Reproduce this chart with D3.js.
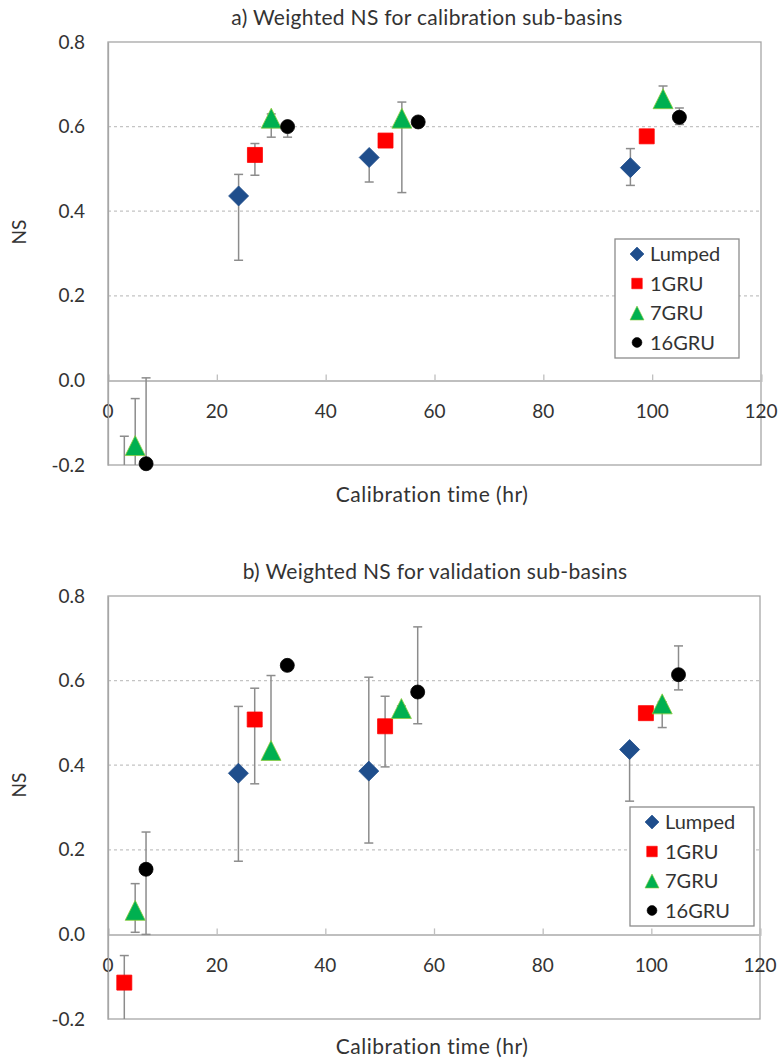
<!DOCTYPE html>
<html>
<head>
<meta charset="utf-8">
<script src="https://cdn.jsdelivr.net/npm/d3@7"></script>
<style>
  html, body { margin: 0; padding: 0; background: #fff; }
  svg { display: block; font-family: Lato, "Open Sans", sans-serif; }
</style>
</head>
<body>
<svg id="chart" width="782" height="1059"></svg>
<script>
// ---------- DATA ----------
const seriesNames = ["Lumped", "1GRU", "7GRU", "16GRU"];
const xTicks = [0, 20, 40, 60, 80, 100, 120];
const yTicks = [-0.2, 0.0, 0.2, 0.4, 0.6, 0.8];
const yTickLabels = ["-0.2", "0.0", "0.2", "0.4", "0.6", "0.8"];

// calibration time (hr) for each series
const lumpedTime = [24, 48, 96];
const gru1Time = [3, 27, 51, 99];
const gru7Time = [5, 30, 54, 102];
const gru16Time = [7, 33, 57, 105];

// a) calibration sub-basins: value, lower and upper error limits
const lumpedCalNS = [0.436, 0.527, 0.503];
const lumpedCalLo = [0.284, 0.469, 0.461];
const lumpedCalHi = [0.487, 0.535, 0.548];
const gru1CalNS = [-0.25, 0.533, 0.567, 0.577];
const gru1CalLo = [-0.35, 0.485, 0.560, 0.570];
const gru1CalHi = [-0.132, 0.560, 0.575, 0.585];
const gru7CalNS = [-0.154, 0.620, 0.620, 0.666];
const gru7CalLo = [-0.25, 0.575, 0.444, 0.660];
const gru7CalHi = [-0.043, 0.630, 0.658, 0.696];
const gru16CalNS = [-0.197, 0.600, 0.611, 0.622];
const gru16CalLo = [-0.25, 0.575, 0.605, 0.605];
const gru16CalHi = [0.006, 0.605, 0.615, 0.644];

// b) validation sub-basins
const lumpedValNS = [0.381, 0.386, 0.437];
const lumpedValLo = [0.173, 0.216, 0.315];
const lumpedValHi = [0.539, 0.608, 0.440];
const gru1ValNS = [-0.114, 0.508, 0.492, 0.523];
const gru1ValLo = [-0.25, 0.356, 0.396, 0.520];
const gru1ValHi = [-0.050, 0.582, 0.563, 0.526];
const gru7ValNS = [0.057, 0.435, 0.534, 0.545];
const gru7ValLo = [0.005, 0.430, 0.514, 0.489];
const gru7ValHi = [0.120, 0.612, 0.540, 0.550];
const gru16ValNS = [0.154, 0.636, 0.573, 0.614];
const gru16ValLo = [0.000, 0.630, 0.498, 0.578];
const gru16ValHi = [0.242, 0.640, 0.727, 0.682];

const titleA = "a) Weighted NS for calibration sub-basins";
const titleB = "b) Weighted NS for validation sub-basins";
const xTitle = "Calibration time (hr)";
const yTitle = "NS";

// ---------- BUILD ----------
function build(times, vals, los, his) {
  return times.map((t, i) => ({ t, v: vals[i], lo: los[i], hi: his[i] }));
}
const styles = {
  "Lumped": { shape: "diamond", fill: "#1F4E8C", stroke: "#1F4E8C" },
  "1GRU": { shape: "square", fill: "#FF0000", stroke: "#FF0000" },
  "7GRU": { shape: "triangle", fill: "#00B050", stroke: "#8CCB3C" },
  "16GRU": { shape: "circle", fill: "#000000", stroke: "#000000" }
};

const panels = [
  {
    id: "a", title: titleA, top: 42, bottom: 465, left: 108, right: 761,
    titleX: 427, titleY: 25, xTitleY: 502, nsY: 232,
    legend: { x: 615, y: 239, w: 124, h: 119 },
    series: [
      { name: "Lumped", data: build(lumpedTime, lumpedCalNS, lumpedCalLo, lumpedCalHi) },
      { name: "1GRU", data: build(gru1Time, gru1CalNS, gru1CalLo, gru1CalHi) },
      { name: "7GRU", data: build(gru7Time, gru7CalNS, gru7CalLo, gru7CalHi) },
      { name: "16GRU", data: build(gru16Time, gru16CalNS, gru16CalLo, gru16CalHi) }
    ]
  },
  {
    id: "b", title: titleB, top: 596, bottom: 1019, left: 108, right: 760,
    titleX: 435, titleY: 579, xTitleY: 1054, nsY: 785,
    legend: { x: 630, y: 807, w: 124, h: 119 },
    series: [
      { name: "Lumped", data: build(lumpedTime, lumpedValNS, lumpedValLo, lumpedValHi) },
      { name: "1GRU", data: build(gru1Time, gru1ValNS, gru1ValLo, gru1ValHi) },
      { name: "7GRU", data: build(gru7Time, gru7ValNS, gru7ValLo, gru7ValHi) },
      { name: "16GRU", data: build(gru16Time, gru16ValNS, gru16ValLo, gru16ValHi) }
    ]
  }
];

const svg = d3.select("#chart");
const textColor = "#333";

function markerPath(shape, s) {
  if (shape === "diamond") {
    const r = 10 * s;
    return `M0,${-r}L${r},0L0,${r}L${-r},0Z`;
  }
  if (shape === "square") {
    const h = 7.5 * s;
    return `M${-h},${-h}H${h}V${h}H${-h}Z`;
  }
  if (shape === "triangle") {
    const w = 10 * s, hh = 10 * s;
    return `M0,${-hh}L${w},${hh}L${-w},${hh}Z`;
  }
  return d3.symbol(d3.symbolCircle, Math.PI * (7 * s) * (7 * s))();
}

panels.forEach(p => {
  const x = d3.scaleLinear().domain([0, 120]).range([p.left, p.right]);
  const y = d3.scaleLinear().domain([-0.2, 0.8]).range([p.bottom, p.top]);
  const g = svg.append("g");

  const clipId = "clip-" + p.id;
  svg.append("clipPath").attr("id", clipId)
    .append("rect").attr("x", p.left).attr("y", p.top)
    .attr("width", p.right - p.left).attr("height", p.bottom - p.top);

  // title
  g.append("text").attr("x", p.titleX).attr("y", p.titleY)
    .attr("text-anchor", "middle").attr("font-size", 21).attr("letter-spacing", 0.3)
    .attr("fill", textColor)
    .text(p.title);

  // gridlines (dotted)
  g.append("g").selectAll("line").data(yTicks.filter(v => v > 0.05 && v < 0.75)).join("line")
    .attr("x1", p.left).attr("x2", p.right)
    .attr("y1", d => y(d)).attr("y2", d => y(d))
    .attr("stroke", "#c4c4c4").attr("stroke-width", 1.3).attr("stroke-dasharray", "3,3");

  // plot area border
  g.append("rect").attr("x", p.left).attr("y", p.top)
    .attr("width", p.right - p.left).attr("height", p.bottom - p.top)
    .attr("fill", "none").attr("stroke", "#a6a6a6").attr("stroke-width", 1.3);

  // x axis at y=0 with ticks pointing up, labels placed below
  const xAxis = d3.axisTop(x).tickValues(xTicks).tickSize(6).tickFormat("");
  const xg = g.append("g").attr("transform", `translate(0,${y(0)})`).call(xAxis);
  xg.select(".domain").attr("stroke", "#bfbfbf").attr("stroke-width", 2);
  xg.selectAll(".tick line").attr("stroke", "#bfbfbf").attr("stroke-width", 1.3);
  g.append("g").selectAll("text").data(xTicks).join("text")
    .attr("x", d => x(d)).attr("y", y(0) + 38)
    .attr("text-anchor", "middle").attr("font-size", 19).attr("fill", textColor)
    .text(d => d);

  // y axis labels
  const yAxis = d3.axisLeft(y).tickValues(yTicks).tickSize(0).tickPadding(23)
    .tickFormat((d, i) => yTickLabels[i]);
  const yg = g.append("g").attr("transform", `translate(${p.left},0)`).call(yAxis);
  yg.select(".domain").attr("stroke", "#a6a6a6").attr("stroke-width", 1.3);
  yg.selectAll(".tick text").attr("font-size", 19).attr("fill", textColor)
    .attr("font-family", "Lato, 'Open Sans', sans-serif");

  // axis titles
  g.append("text").attr("x", 432).attr("y", p.xTitleY)
    .attr("text-anchor", "middle").attr("font-size", 21).attr("letter-spacing", 0.5)
    .attr("fill", textColor)
    .text(xTitle);
  g.append("text").attr("transform", `translate(26,${p.nsY}) rotate(-90)`)
    .attr("text-anchor", "middle").attr("font-size", 19).attr("fill", textColor)
    .text(yTitle);

  // series: error bars clipped to plot area, markers shown only when in range
  const [y0, y1] = y.domain();
  const barG = g.append("g").attr("clip-path", `url(#${clipId})`);
  const markG = g.append("g");
  p.series.forEach(s => {
    const st = styles[s.name];
    const eg = barG.append("g");
    eg.selectAll("line.bar").data(s.data).join("line").attr("class", "bar")
      .attr("x1", d => x(d.t)).attr("x2", d => x(d.t))
      .attr("y1", d => y(d.lo)).attr("y2", d => y(d.hi))
      .attr("stroke", "#8c8c8c").attr("stroke-width", 1.5);
    ["lo", "hi"].forEach(k => {
      eg.selectAll("line.cap" + k).data(s.data).join("line").attr("class", "cap" + k)
        .attr("x1", d => x(d.t) - 4.5).attr("x2", d => x(d.t) + 4.5)
        .attr("y1", d => y(d[k])).attr("y2", d => y(d[k]))
        .attr("stroke", "#8c8c8c").attr("stroke-width", 1.5);
    });
    markG.append("g").selectAll("path").data(s.data.filter(d => d.v >= y0 && d.v <= y1)).join("path")
      .attr("transform", d => `translate(${x(d.t)},${y(d.v)})`)
      .attr("d", markerPath(st.shape, 1))
      .attr("fill", st.fill).attr("stroke", st.stroke).attr("stroke-width", 0.8);
  });

  // legend
  const L = p.legend;
  const lg = g.append("g");
  lg.append("rect").attr("x", L.x).attr("y", L.y).attr("width", L.w).attr("height", L.h)
    .attr("fill", "#fff").attr("stroke", "#8c8c8c").attr("stroke-width", 1.3);
  seriesNames.forEach((name, i) => {
    const cy = L.y + 15 + i * 29.5;
    const st = styles[name];
    lg.append("path").attr("transform", `translate(${L.x + 22},${cy})`)
      .attr("d", markerPath(st.shape, 0.7)).attr("fill", st.fill).attr("stroke", st.stroke)
      .attr("stroke-width", 0.6);
    lg.append("text").attr("x", L.x + 35).attr("y", cy).attr("dy", "0.36em")
      .attr("font-size", 20).attr("fill", textColor).text(name);
  });
});
</script>
</body>
</html>
